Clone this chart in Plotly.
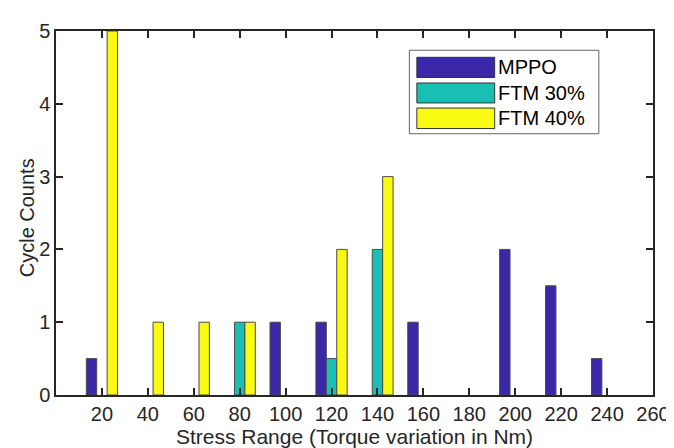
import plotly.graph_objects as go

# Data
series_names = ["MPPO", "FTM 30%", "FTM 40%"]
mppo_x = [20, 100, 120, 160, 200, 220, 240]
mppo_y = [0.5, 1, 1, 1, 2, 1.5, 0.5]
ftm30_x = [80, 120, 140]
ftm30_y = [1, 0.5, 2]
ftm40_x = [20, 40, 60, 80, 120, 140]
ftm40_y = [5, 1, 1, 1, 2, 3]
x_ticks = [20, 40, 60, 80, 100, 120, 140, 160, 180, 200, 220, 240, 260]
y_ticks = [0, 1, 2, 3, 4, 5]

colors = ["#3B28A8", "#1ABFB4", "#F8FA12"]
edge = "#4a4a4a"
txt = "#262626"
FONT = "Liberation Sans, Arial, Helvetica, sans-serif"

fig = go.Figure()
for name, xs, ys, c in zip(series_names, [mppo_x, ftm30_x, ftm40_x],
                           [mppo_y, ftm30_y, ftm40_y], colors):
    fig.add_trace(go.Bar(x=xs, y=ys, name=name, marker=dict(color=c, line=dict(color=edge, width=1)),
                         showlegend=False))

fig.update_layout(
    width=674, height=448,
    margin=dict(l=48, r=20, t=16, b=54),
    paper_bgcolor="white", plot_bgcolor="white",
    barmode="group", bargap=0.32, bargroupgap=0,
    font=dict(family=FONT, size=20, color=txt),
)
fig.update_xaxes(
    range=[0, 260], tickvals=x_ticks, ticks="inside", ticklen=7, tickwidth=1.5,
    tickcolor=txt, showline=True, linecolor=txt, linewidth=1.5, mirror="ticks",
    showgrid=False, zeroline=False,
    title=dict(text="Stress Range (Torque variation in Nm)", standoff=5, font=dict(size=21)),
    tickfont=dict(size=20),
)
fig.update_yaxes(
    range=[0, 5], tickvals=y_ticks, ticks="inside", ticklen=7, tickwidth=1.5,
    tickcolor=txt, showline=True, linecolor=txt, linewidth=1.5, mirror="ticks",
    showgrid=False, zeroline=False,
    tickfont=dict(size=20),
)

def px_x(px):
    return (px - 48) / 606.0

def px_y(py):
    return (394 - py) / 378.0

# Y axis title
fig.add_annotation(xref="paper", yref="paper", x=px_x(18), y=px_y(210), text="Cycle Counts",
                   textangle=-90, showarrow=False, xanchor="center", yanchor="middle",
                   font=dict(size=20, color=txt))

# Manual legend (MATLAB style)
fig.add_shape(type="rect", xref="paper", yref="paper",
              x0=px_x(406.7), x1=px_x(599), y0=px_y(122.7), y1=px_y(36),
              line=dict(color="#666666", width=1), fillcolor="white", layer="above")
rows = [(43.3, 64.3), (70, 90.7), (96, 117.3)]
for (t, b), name, c in zip(rows, series_names, colors):
    fig.add_shape(type="rect", xref="paper", yref="paper",
                  x0=px_x(414.3), x1=px_x(493.3), y0=px_y(b), y1=px_y(t),
                  line=dict(color="#333333", width=1), fillcolor=c, layer="above")
    fig.add_annotation(xref="paper", yref="paper", x=px_x(494.5), y=px_y((t + b) / 2),
                       text=name, showarrow=False, xanchor="left", yanchor="middle",
                       font=dict(size=20, color="#000000"))

fig.write_html("out.html")
